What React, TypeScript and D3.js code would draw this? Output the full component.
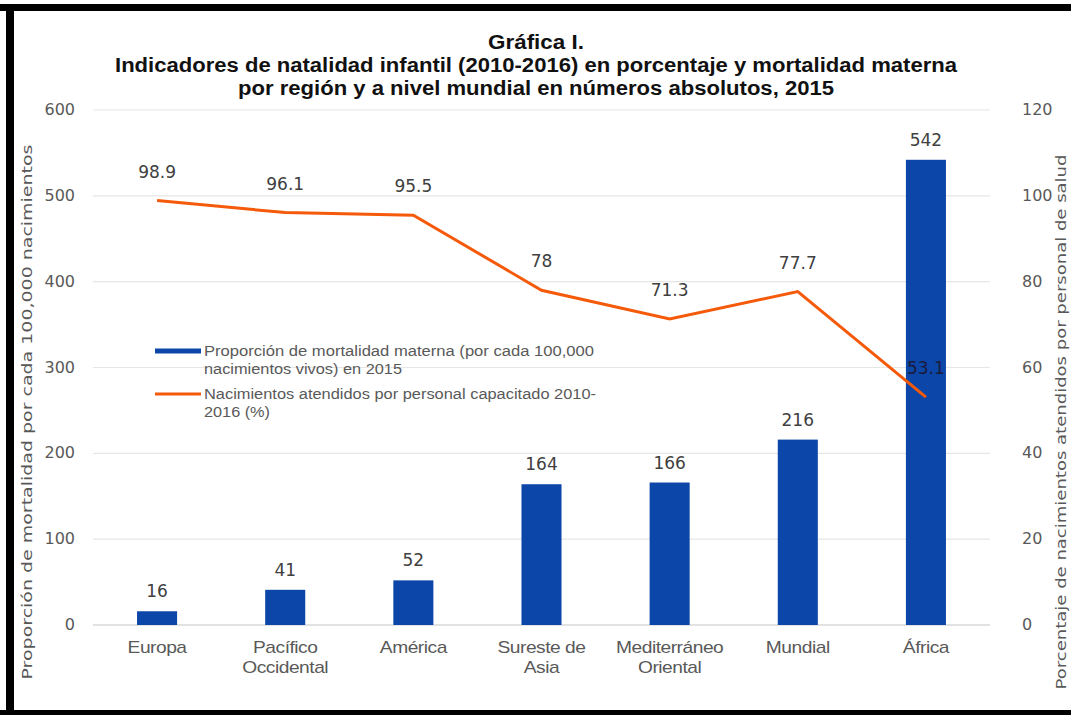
import React from "react";
import * as d3 from "d3";

const categories = [
  ["Europa"],
  ["Pacífico", "Occidental"],
  ["América"],
  ["Sureste de", "Asia"],
  ["Mediterráneo", "Oriental"],
  ["Mundial"],
  ["África"],
];
const mortality = [16, 41, 52, 164, 166, 216, 542];
const births = [98.9, 96.1, 95.5, 78, 71.3, 77.7, 53.1];
const birthLabels = ["98.9", "96.1", "95.5", "78", "71.3", "77.7", "53.1"];
const leftTicks = [0, 100, 200, 300, 400, 500, 600];
const rightTicks = [0, 20, 40, 60, 80, 100, 120];
const titleLines = [
  "Gráfica I.",
  "Indicadores de natalidad infantil (2010-2016) en porcentaje y mortalidad materna",
  "por región y a nivel mundial  en números absolutos, 2015",
];
const titleWidths = [96, 842, 596];
const legendItems = [
  { color: "#0B46A8", lines: ["Proporción de mortalidad materna (por cada 100,000", "nacimientos vivos) en 2015"], widths: [390, 198] },
  { color: "#F55A0A", lines: ["Nacimientos atendidos por personal capacitado 2010-", "2016 (%)"], widths: [392, 66] },
];

const W = 1071;
const H = 715;
const left = 93;
const right = 990;
const top = 110;
const bottom = 625;

export default function App() {
  const idx = categories.map((_, i) => String(i));
  const x = d3.scaleBand().domain(idx).range([left, right]).paddingInner(0.6875).paddingOuter(0.34375);
  const yL = d3.scaleLinear().domain([0, 600]).range([bottom, top]);
  const yR = d3.scaleLinear().domain([0, 120]).range([bottom, top]);
  const cx = (i: number) => (x(String(i)) as number) + x.bandwidth() / 2;
  const line = d3
    .line<number>()
    .x((_, i) => cx(i))
    .y((d) => yR(d));
  const font = "'Liberation Sans', Arial, sans-serif";
  const labelFont = "'DejaVu Sans', Verdana, sans-serif";
  return (
    <svg
      width={W}
      height={H}
      style={{ position: "absolute", left: 0, top: 0, background: "#fff" }}
      fontFamily={font}
    >
      <rect x={0} y={0} width={W} height={H} fill="#fff" />
      {/* frame */}
      <rect x={0} y={4} width={W} height={7} fill="#000" />
      <rect x={6} y={4} width={8} height={H - 4} fill="#000" />
      <rect x={0} y={710} width={W} height={5} fill="#000" />
      {/* title */}
      {titleLines.map((t, i) => (
        <text
          key={i}
          x={536}
          y={49 + i * 23}
          textAnchor="middle"
          fontSize={20}
          fontWeight="bold"
          fill="#111"
          textLength={titleWidths[i]}
          lengthAdjust="spacingAndGlyphs"
        >
          {t}
        </text>
      ))}
      {/* grid */}
      {leftTicks.map((t) => (
        <line key={t} x1={left} x2={right} y1={yL(t)} y2={yL(t)} stroke={t === 0 ? "#d9d9d9" : "#e6e6e6"} strokeWidth={t === 0 ? 1.5 : 1.2} />
      ))}
      {/* left ticks */}
      {leftTicks.map((t) => (
        <text key={t} x={75} y={yL(t) + 5} textAnchor="end" fontSize={16} fill="#595959" fontFamily={labelFont}>
          {t}
        </text>
      ))}
      {/* right ticks */}
      {rightTicks.map((t) => (
        <text key={t} x={1022} y={yR(t) + 5} textAnchor="start" fontSize={16} fill="#595959" fontFamily={labelFont}>
          {t}
        </text>
      ))}
      {/* axis titles */}
      <text
        transform={`translate(32,412) rotate(-90)`}
        textAnchor="middle"
        fontSize={13.5}
        fill="#595959"
        fontFamily={labelFont}
        textLength={535}
        lengthAdjust="spacingAndGlyphs"
      >
        Proporción de mortalidad por cada 100,000 nacimientos
      </text>
      <text
        transform={`translate(1066,422) rotate(-90)`}
        textAnchor="middle"
        fontSize={13.5}
        fill="#595959"
        fontFamily={labelFont}
        textLength={535}
        lengthAdjust="spacingAndGlyphs"
      >
        Porcentaje de nacimientos atendidos por personal de salud
      </text>
      {/* bars */}
      {mortality.map((v, i) => (
        <rect key={i} x={x(String(i))} y={yL(v)} width={x.bandwidth()} height={bottom - yL(v)} fill="#0B46A8" />
      ))}
      {/* bar labels */}
      {mortality.map((v, i) => (
        <text key={i} x={cx(i)} y={yL(v) - 14} textAnchor="middle" fontSize={17} fill="#404040" fontFamily={labelFont}>
          {v}
        </text>
      ))}
      {/* line */}
      <path d={line(births) || ""} fill="none" stroke="#F55A0A" strokeWidth={3} />
      {births.map((v, i) => (
        <text
          key={i}
          x={cx(i)}
          y={yR(v) - 23}
          textAnchor="middle"
          fontSize={17}
          fill={i === 6 ? "#1a1a3a" : "#404040"}
          fontFamily={labelFont}
        >
          {birthLabels[i]}
        </text>
      ))}
      {/* categories */}
      {categories.map((lines, i) =>
        lines.map((l, j) => (
          <text
            key={`${i}-${j}`}
            transform={`translate(${cx(i)},${653 + j * 20}) scale(1.2,1)`}
            textAnchor="middle"
            fontSize={16}
            fill="#595959"
            style={{ letterSpacing: "-0.4px" }}
          >
            {l}
          </text>
        ))
      )}
      {/* legend */}
      {legendItems.map((it, i) => (
        <g key={i} transform={`translate(0,${i * 43})`}>
          <line x1={155} x2={201} y1={351} y2={351} stroke={it.color} strokeWidth={i === 0 ? 5 : 3} />
          {it.lines.map((l, j) => (
            <text
              key={j}
              x={204}
              y={356 + j * 18}
              fontSize={14}
              fill="#595959"
              textLength={it.widths[j]}
              lengthAdjust="spacingAndGlyphs"
            >
              {l}
            </text>
          ))}
        </g>
      ))}
    </svg>
  );
}
